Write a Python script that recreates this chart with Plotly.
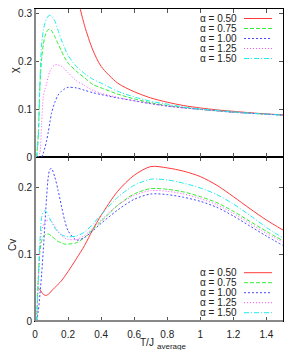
import plotly.graph_objects as go

# ---------------- data ----------------
T = [0.01, 0.02, 0.03, 0.04, 0.05, 0.06, 0.07, 0.08, 0.09, 0.10,
     0.12, 0.14, 0.16, 0.18, 0.20, 0.25, 0.30, 0.35, 0.40, 0.50,
     0.60, 0.70, 0.80, 0.90, 1.00, 1.10, 1.20, 1.30, 1.40, 1.50]

alpha_labels = ["α = 0.50", "α = 0.75", "α = 1.00", "α = 1.25", "α = 1.50"]

# susceptibility chi
chi_050 = [None, None, None, None, None, None, None, None, None, None,
           None, None, None, 0.48, 0.43, 0.345, 0.275, 0.224, 0.19, 0.155,
           0.137, 0.124, 0.115, 0.108, 0.103, 0.099, 0.096, 0.093, 0.0905, 0.0885]
chi_075 = [0.0, 0.05, 0.15, 0.205, 0.235, 0.252, 0.262, 0.267, 0.268, 0.265,
           0.252, 0.237, 0.222, 0.208, 0.197, 0.18, 0.166, 0.152, 0.145, 0.132,
           0.122, 0.114, 0.108, 0.104, 0.100, 0.097, 0.094, 0.092, 0.090, 0.088]
chi_100 = [None, None, None, 0.0, 0.008, 0.02, 0.034, 0.052, 0.073, 0.092,
           0.115, 0.130, 0.138, 0.143, 0.146, 0.145, 0.140, 0.135, 0.131, 0.124,
           0.118, 0.112, 0.107, 0.103, 0.100, 0.097, 0.094, 0.092, 0.090, 0.088]
chi_125 = [None, 0.0, 0.01, 0.07, 0.125, 0.142, 0.154, 0.168, 0.179, 0.186,
           0.193, 0.193, 0.190, 0.184, 0.177, 0.160, 0.150, 0.140, 0.134, 0.125,
           0.118, 0.112, 0.107, 0.103, 0.100, 0.097, 0.094, 0.092, 0.090, 0.088]
chi_150 = [0.0, 0.04, 0.16, 0.235, 0.265, 0.280, 0.290, 0.295, 0.297, 0.295,
           0.285, 0.265, 0.245, 0.228, 0.213, 0.190, 0.175, 0.163, 0.155, 0.138,
           0.126, 0.117, 0.111, 0.105, 0.101, 0.098, 0.095, 0.092, 0.090, 0.088]

# specific heat Cv
cv_050 = [None, 0.049, 0.047, 0.043, 0.040, 0.0385, 0.0385, 0.040, 0.042, 0.045,
          0.050, 0.055, 0.060, 0.067, 0.074, 0.093, 0.113, 0.137, 0.158, 0.194,
          0.218, 0.231, 0.229, 0.224, 0.216, 0.203, 0.186, 0.168, 0.151, 0.136]
cv_075 = [0.0, 0.065, 0.105, 0.120, 0.126, 0.129, 0.130, 0.130, 0.129, 0.127,
          0.123, 0.119, 0.117, 0.115, 0.115, 0.117, 0.125, 0.137, 0.149, 0.173,
          0.190, 0.198, 0.197, 0.193, 0.186, 0.177, 0.164, 0.149, 0.134, 0.120]
cv_100 = [0.0, 0.015, 0.040, 0.070, 0.105, 0.145, 0.185, 0.215, 0.227, 0.228,
          0.215, 0.195, 0.172, 0.150, 0.135, 0.121, 0.125, 0.135, 0.146, 0.166,
          0.182, 0.190, 0.189, 0.185, 0.179, 0.170, 0.157, 0.142, 0.127, 0.113]
cv_125 = [0.0, 0.060, 0.110, 0.135, 0.143, 0.148, 0.150, 0.151, 0.151, 0.149,
          0.142, 0.134, 0.128, 0.124, 0.122, 0.122, 0.128, 0.139, 0.151, 0.173,
          0.188, 0.195, 0.194, 0.190, 0.183, 0.174, 0.161, 0.146, 0.131, 0.118]
cv_150 = [0.0, 0.060, 0.120, 0.155, 0.163, 0.165, 0.163, 0.158, 0.153, 0.148,
          0.139, 0.133, 0.129, 0.127, 0.126, 0.127, 0.133, 0.145, 0.159, 0.185,
          0.203, 0.212, 0.211, 0.206, 0.199, 0.189, 0.175, 0.158, 0.140, 0.124]

x_ticks = [0, 0.2, 0.4, 0.6, 0.8, 1.0, 1.2, 1.4]
x_tick_text = ["0", "0.2", "0.4", "0.6", "0.8", "1", "1.2", "1.4"]
chi_ticks = [0, 0.1, 0.2, 0.3]
chi_tick_text = ["0", "0.1", "0.2", "0.3"]
cv_ticks = [0, 0.1, 0.2]
cv_tick_text = ["0", "0.1", "0.2"]

# ---------------- styles ----------------
colors = ["#ff3a3a", "#30ee30", "#4848ff", "#ff50ff", "#20ecec"]
dashes = ["solid", "4px,2px", "2px,2px", "1px,2px", "5px,2px,1px,2px"]

chi_series = [chi_050, chi_075, chi_100, chi_125, chi_150]
cv_series = [cv_050, cv_075, cv_100, cv_125, cv_150]

fig = go.Figure()
for i in range(5):
    fig.add_trace(go.Scatter(x=T, y=chi_series[i], mode="lines", xaxis="x2", yaxis="y2",
                             line=dict(color=colors[i], width=1, dash=dashes[i], shape="spline", smoothing=0.8),
                             showlegend=False, connectgaps=False))
for i in range(5):
    fig.add_trace(go.Scatter(x=T, y=cv_series[i], mode="lines", xaxis="x", yaxis="y",
                             line=dict(color=colors[i], width=1, dash=dashes[i], shape="spline", smoothing=0.8),
                             showlegend=False, connectgaps=False))

FONT = "Liberation Sans, Arial, sans-serif"
split = 0.525

axis_common = dict(showgrid=False, zeroline=False, ticks="inside", ticklen=4,
                   tickcolor="#555", showline=True, linecolor="black", linewidth=1,
                   mirror="ticks", automargin=False,
                   tickfont=dict(family=FONT, size=10, color="#222"))

# page body has an 8px offset: plot area lands at screen x 35..283, y 9..321
fig.update_layout(
    template="none",
    width=300, height=350,
    margin=dict(l=27, r=25, t=1, b=37),
    paper_bgcolor="white", plot_bgcolor="white",
    xaxis=dict(domain=[0, 1], range=[0, 1.5], anchor="y", ticklabelstandoff=4,
               tickvals=x_ticks, ticktext=x_tick_text, **axis_common),
    yaxis=dict(domain=[0, split], range=[0, 0.245], anchor="x",
               tickvals=cv_ticks, ticktext=cv_tick_text, **axis_common),
    xaxis2=dict(domain=[0, 1], range=[0, 1.5], anchor="y2", matches="x",
                tickvals=x_ticks, showticklabels=False, **axis_common),
    yaxis2=dict(domain=[split, 1], range=[0, 0.31], anchor="x2",
                tickvals=chi_ticks, ticktext=chi_tick_text, **axis_common),
    showlegend=False,
)

annotations = []
shapes = []
# manual gnuplot-style legends (text then sample); coordinates in screen pixels
plot_h = 312.0
plot_w = 248.0
top_rows = [18.5, 28.5, 38.5, 48.5, 58.5]
bot_rows = [272.7, 282.7, 292.7, 302.7, 312.7]
def py(pix):
    return (321.0 - pix) / plot_h
def px(pix):
    return (pix - 35.0) / plot_w
tx = px(238.5)
lx0 = px(244)
lx1 = px(272)
for rows in (top_rows, bot_rows):
    for i, r in enumerate(rows):
        annotations.append(dict(x=tx, y=py(r), xref="paper", yref="paper", text=alpha_labels[i],
                                showarrow=False, xanchor="right", yanchor="middle",
                                font=dict(family=FONT, size=10, color="#222")))
        shapes.append(dict(type="line", xref="paper", yref="paper", x0=lx0, x1=lx1,
                           y0=py(r), y1=py(r),
                           line=dict(color=colors[i], width=1, dash=dashes[i])))

# axis titles
annotations.append(dict(x=px(14), y=py(70), xref="paper", yref="paper", text="χ",
                        showarrow=False, textangle=-90, xanchor="center", yanchor="middle",
                        font=dict(family=FONT, size=11, color="#222")))
annotations.append(dict(x=px(12), y=py(245), xref="paper", yref="paper", text="Cv",
                        showarrow=False, textangle=-90, xanchor="center", yanchor="middle",
                        font=dict(family=FONT, size=10, color="#222")))
annotations.append(dict(x=px(155), y=py(342), xref="paper", yref="paper", text="T/J",
                        showarrow=False, xanchor="right", yanchor="middle", borderpad=0,
                        font=dict(family=FONT, size=10, color="#222")))
annotations.append(dict(x=px(156), y=py(346), xref="paper", yref="paper", text="average",
                        showarrow=False, xanchor="left", yanchor="middle", borderpad=0,
                        font=dict(family=FONT, size=8, color="#222")))

# gray heavier left / bottom frame edges (as in reference)
shapes.append(dict(type="line", xref="paper", yref="paper", x0=0, x1=0, y0=0, y1=1,
                   line=dict(color="#888", width=2)))
shapes.append(dict(type="line", xref="paper", yref="paper", x0=0, x1=1, y0=0, y1=0,
                   line=dict(color="#888", width=2)))

fig.update_layout(annotations=annotations, shapes=shapes)
fig.write_html("out.html")
